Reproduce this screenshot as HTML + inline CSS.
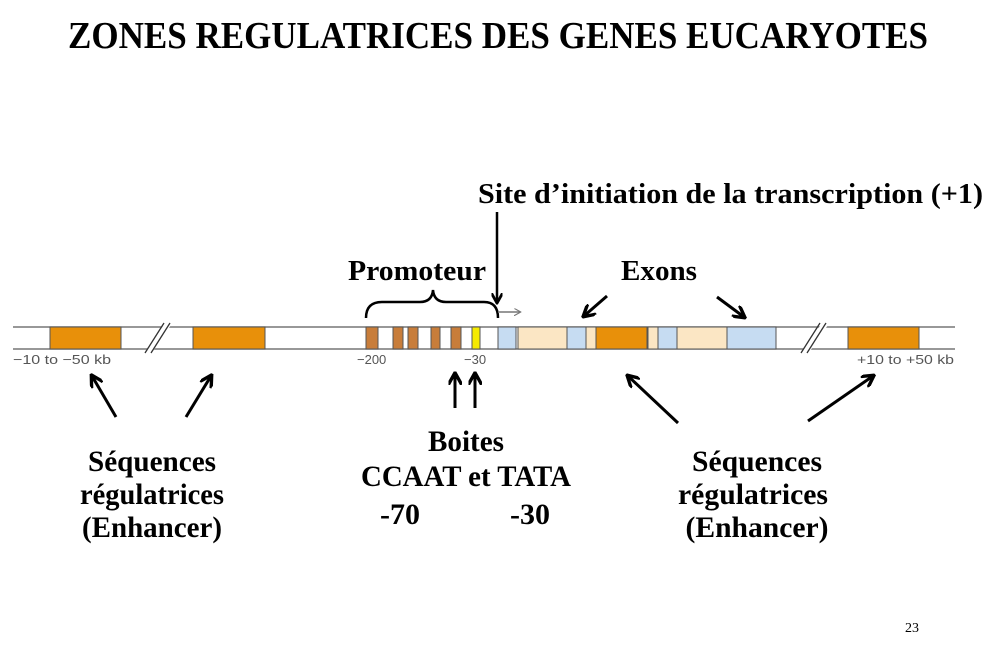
<!DOCTYPE html>
<html><head><meta charset="utf-8"><style>
html,body{margin:0;padding:0;background:#fff;}
svg{display:block;}
text{font-family:"Liberation Serif",serif;font-weight:bold;fill:#000;}
.s{font-family:"Liberation Sans",sans-serif;font-weight:normal;fill:#555;font-size:13px;}
</style></head><body>
<svg width="1000" height="668" viewBox="0 0 1000 668" xmlns="http://www.w3.org/2000/svg">
<defs>
<marker id="ah" viewBox="0 0 10 10" refX="8" refY="5" markerWidth="4.5" markerHeight="4.5" orient="auto"><path d="M0,0 L9,5 L0,10" fill="none" stroke="#000" stroke-width="2.5"/></marker>
<marker id="ag" viewBox="0 0 10 10" refX="8" refY="5" markerWidth="5" markerHeight="5" orient="auto"><path d="M0,0 L9,5 L0,10" fill="none" stroke="#777" stroke-width="1.5"/></marker>
</defs>
<text x="68" y="48" font-size="38" textLength="860" lengthAdjust="spacingAndGlyphs">ZONES REGULATRICES DES GENES EUCARYOTES</text>
<text x="478" y="203" font-size="29" textLength="505" lengthAdjust="spacingAndGlyphs">Site d’initiation de la transcription (+1)</text>
<text x="348" y="280" font-size="29" textLength="138" lengthAdjust="spacingAndGlyphs">Promoteur</text>
<text x="621" y="280" font-size="29" textLength="76" lengthAdjust="spacingAndGlyphs">Exons</text>

<line x1="13" y1="327" x2="955" y2="327" stroke="#777" stroke-width="1.5"/>
<line x1="13" y1="349" x2="955" y2="349" stroke="#777" stroke-width="1.5"/>
<g stroke="#555" stroke-width="1">
<rect x="50" y="327" width="71" height="22" fill="#e8900a"/>
<rect x="193" y="327" width="72" height="22" fill="#e8900a"/>
<rect x="366" y="327" width="12" height="22" fill="#c87d3a"/>
<rect x="393" y="327" width="10" height="22" fill="#c87d3a"/>
<rect x="408" y="327" width="10" height="22" fill="#c87d3a"/>
<rect x="431" y="327" width="9" height="22" fill="#c87d3a"/>
<rect x="451" y="327" width="10" height="22" fill="#c87d3a"/>
<rect x="472" y="327" width="8" height="22" fill="#f5ea00"/>
<rect x="498" y="327" width="18" height="22" fill="#c6dcf2"/>
<rect x="518" y="327" width="49" height="22" fill="#fbe6c4"/>
<rect x="567" y="327" width="19" height="22" fill="#c6dcf2"/>
<rect x="586" y="327" width="10" height="22" fill="#fbe6c4"/>
<rect x="596" y="327" width="51" height="22" fill="#e8900a"/>
<rect x="648" y="327" width="10" height="22" fill="#fbe6c4"/>
<rect x="658" y="327" width="19" height="22" fill="#c6dcf2"/>
<rect x="677" y="327" width="50" height="22" fill="#fbe6c4"/>
<rect x="727" y="327" width="49" height="22" fill="#c6dcf2"/>
<rect x="848" y="327" width="71" height="22" fill="#e8900a"/>
</g>
<g stroke="#fff" stroke-width="6"><line x1="148" y1="353" x2="168" y2="324"/><line x1="805" y1="353" x2="825" y2="324"/></g>
<g stroke="#333" stroke-width="1.3">
<line x1="145" y1="353" x2="164" y2="323"/><line x1="151" y1="353" x2="170" y2="323"/>
<line x1="801" y1="353" x2="820" y2="323"/><line x1="807" y1="353" x2="826" y2="323"/>
</g>
<text class="s" x="13" y="364" textLength="98" lengthAdjust="spacingAndGlyphs">−10 to −50 kb</text>
<text class="s" x="357" y="364">−200</text>
<text class="s" x="464" y="364">−30</text>
<text class="s" x="857" y="364" textLength="97" lengthAdjust="spacingAndGlyphs">+10 to +50 kb</text>

<path d="M366,318 Q366,302 382,302 L420,302 Q432,302 433,290 Q434,302 446,302 L484,302 Q498,302 498,318" fill="none" stroke="#000" stroke-width="2.5"/>
<line x1="498" y1="312" x2="520" y2="312" stroke="#777" stroke-width="1.5" marker-end="url(#ag)"/>
<line x1="497" y1="212" x2="497" y2="302" stroke="#000" stroke-width="2.5" marker-end="url(#ah)"/>

<g stroke="#000" stroke-width="3" marker-end="url(#ah)">
<line x1="607" y1="296" x2="584" y2="316"/>
<line x1="717" y1="297" x2="744" y2="317"/>
<line x1="116" y1="417" x2="92" y2="376"/>
<line x1="186" y1="417" x2="211" y2="376"/>
<line x1="455" y1="408" x2="455" y2="374"/>
<line x1="475" y1="408" x2="475" y2="374"/>
<line x1="678" y1="423" x2="628" y2="376"/>
<line x1="808" y1="421" x2="873" y2="376"/>
</g>

<g font-size="30" text-anchor="middle">
<text x="152" y="471" textLength="128" lengthAdjust="spacingAndGlyphs">Séquences</text>
<text x="152" y="504" textLength="144" lengthAdjust="spacingAndGlyphs">régulatrices</text>
<text x="152" y="537" textLength="140" lengthAdjust="spacingAndGlyphs">(Enhancer)</text>
<text x="757" y="471" textLength="130" lengthAdjust="spacingAndGlyphs">Séquences</text>
<text x="753" y="504" textLength="150" lengthAdjust="spacingAndGlyphs">régulatrices</text>
<text x="757" y="537" textLength="143" lengthAdjust="spacingAndGlyphs">(Enhancer)</text>
<text x="466" y="451" textLength="76" lengthAdjust="spacingAndGlyphs">Boites</text>
<text x="466" y="486" textLength="210" lengthAdjust="spacingAndGlyphs">CCAAT et TATA</text>
<text x="400" y="524" textLength="40" lengthAdjust="spacingAndGlyphs">-70</text>
<text x="530" y="524" textLength="40" lengthAdjust="spacingAndGlyphs">-30</text>
</g>
<text x="905" y="632" font-size="14" style="font-weight:normal">23</text>
</svg>
</body></html>
